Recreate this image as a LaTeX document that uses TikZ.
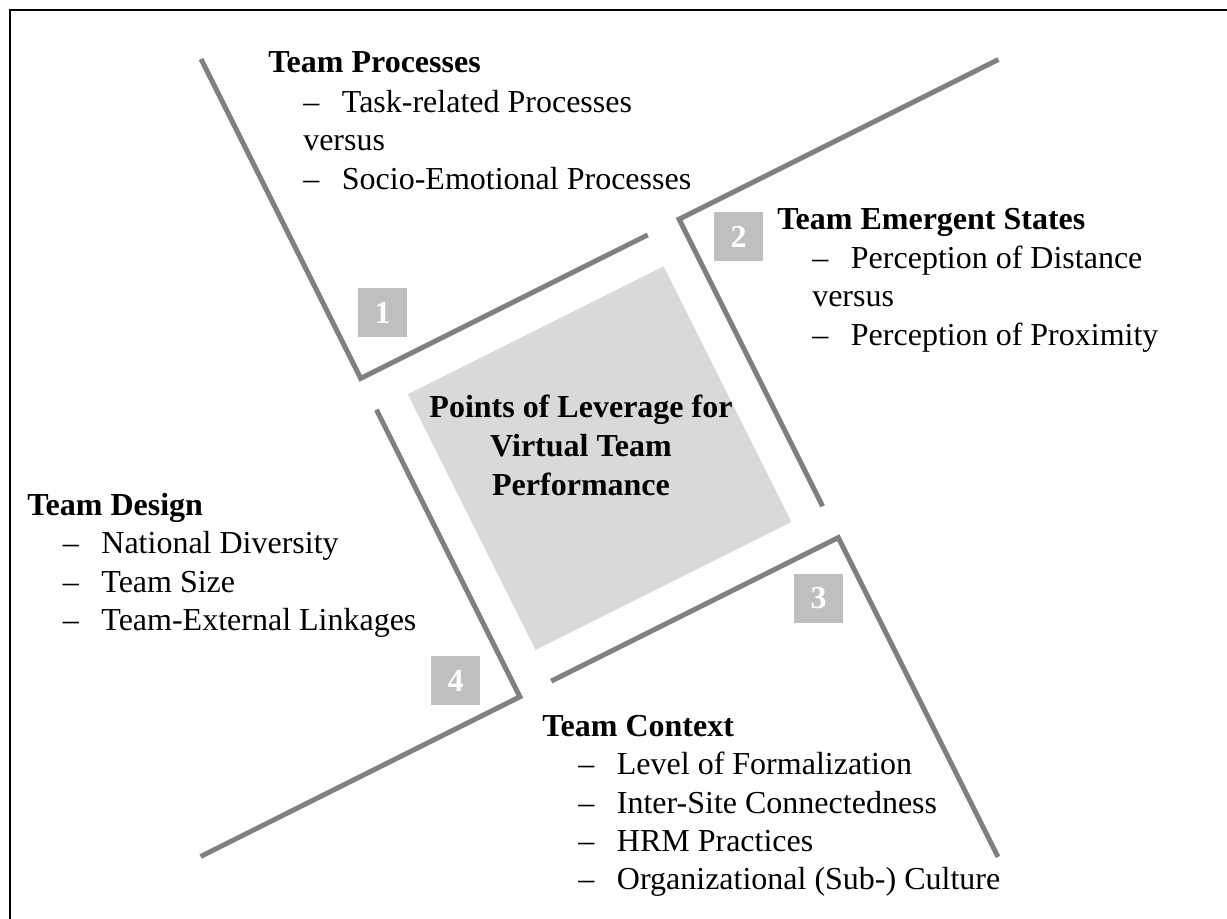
\documentclass[tikz,border=0pt]{standalone}
\usepackage{fontspec}
\setmainfont{Liberation Serif}
\usepackage{tikz}

\definecolor{wallgray}{RGB}{128,128,128}
\definecolor{boxgray}{RGB}{191,191,191}
\definecolor{coregray}{RGB}{217,217,217}
\newcommand{\itemdash}{\makebox[29pt][l]{--}}

\tikzset{
  wall/.style={draw=wallgray, line width=3.75pt},
  numbox/.style={fill=boxgray, text=white, font=\bfseries, minimum size=36.75pt, inner sep=0pt},
  head/.style={font=\bfseries, anchor=base west, inner sep=0pt},
  entry/.style={anchor=base west, inner sep=0pt},
  coretext/.style={font=\bfseries, anchor=base, inner sep=0pt}
}

\begin{document}
\fontsize{24}{29}\selectfont
\begin{tikzpicture}[x=0.75pt, y=-0.75pt]
    \useasboundingbox (0,0) rectangle (1227,919);
    \draw[line width=1.5pt] (10,919) -- (10,10) -- (1227,10);
    \node[fill=coregray, rotate=26.565, minimum size=214.5pt, inner sep=0pt] at (599.5,458) (core) {};
    \node[coretext] at (581,418) (core1) {Points of Leverage for};
    \node[coretext] at (581,456.5) (core2) {Virtual Team};
    \node[coretext] at (581,495) (core3) {Performance};
    \draw[wall] (201,59.1) -- (360.7,378.4) -- (647.8,234.9);
    \draw[wall] (998.4,59.5) -- (679.1,219.2) -- (822.6,506.3);
    \draw[wall] (998,856.9) -- (838.3,537.6) -- (551.2,681.1);
    \draw[wall] (200.6,856.5) -- (519.9,696.8) -- (376.4,409.7);
    \node[numbox] at (382.5,313) (n1) {1};
    \node[numbox] at (738.5,236.5) (n2) {2};
    \node[numbox] at (818.5,598.5) (n3) {3};
    \node[numbox] at (455.5,680.5) (n4) {4};
    \node[head] at (268,73) (proc) {Team Processes};
    \node[entry] at (303,113) (proc1) {\itemdash Task-related Processes};
    \node[entry] at (303,151) (procvs) {versus};
    \node[entry] at (303,190) (proc2) {\itemdash Socio-Emotional Processes};
    \node[head] at (777,230) (emerg) {Team Emergent States};
    \node[entry] at (812,269) (emerg1) {\itemdash Perception of Distance};
    \node[entry] at (812,307) (emergvs) {versus};
    \node[entry] at (812,346) (emerg2) {\itemdash Perception of Proximity};
    \node[head] at (27,515) (design) {Team Design};
    \node[entry] at (62.5,553) (design1) {\itemdash National Diversity};
    \node[entry] at (62.5,592) (design2) {\itemdash Team Size};
    \node[entry] at (62.5,630) (design3) {\itemdash Team-External Linkages};
    \node[head] at (542,736) (context) {Team Context};
    \node[entry] at (578,774.5) (context1) {\itemdash Level of Formalization};
    \node[entry] at (578,813) (context2) {\itemdash Inter-Site Connectedness};
    \node[entry] at (578,851) (context3) {\itemdash HRM Practices};
    \node[entry] at (578,889.5) (context4) {\itemdash Organizational (Sub-) Culture};
\end{tikzpicture}
\end{document}
